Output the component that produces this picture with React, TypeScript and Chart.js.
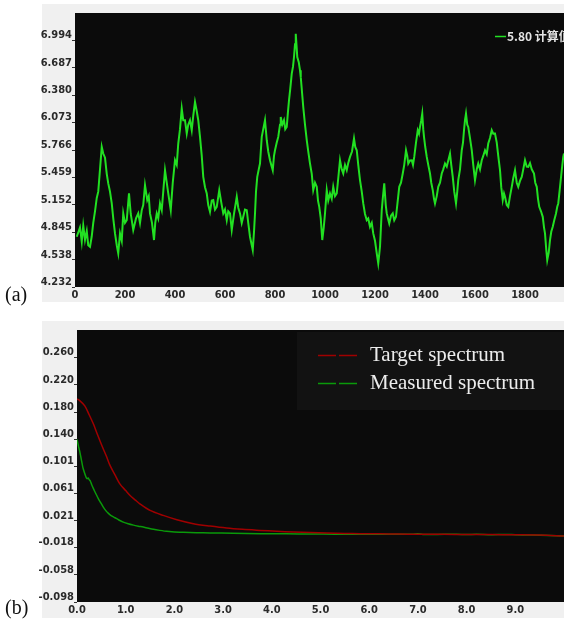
import { useEffect, useRef } from "react";
import { Chart, registerables } from "chart.js";

Chart.register(...registerables);

// ---- Panel (a): computed value trace ----
const CALC_X = [
  7, 20, 27, 33, 40, 47, 53, 60, 67, 73, 80, 87, 93, 100, 107, 113, 120, 127, 133, 140,
  147, 153, 160, 167, 173, 180, 187, 193, 200, 207, 216, 223, 227, 233, 244, 253, 260, 267, 273, 280,
  289, 295, 300, 308, 316, 321, 327, 333, 340, 347, 353, 360, 367, 373, 383, 391, 400, 407, 413, 420,
  427, 433, 440, 447, 453, 460, 467, 473, 480, 487, 493, 500, 507, 513, 520, 527, 533, 540, 547, 553,
  560, 567, 577, 585, 593, 600, 607, 613, 620, 627, 636, 647, 653, 660, 667, 673, 680, 687, 693, 700,
  707, 711, 716, 720, 724, 729, 735, 740, 747, 753, 760, 767, 773, 780, 787, 791, 796, 800, 807, 813,
  820, 823, 829, 836, 841, 847, 852, 856, 861, 867, 872, 876, 880, 883, 887, 889, 895, 900, 903, 913,
  920, 927, 933, 940, 947, 953, 960, 967, 972, 977, 983, 989, 995, 1000, 1007, 1013, 1020, 1027, 1033, 1040,
  1047, 1053, 1060, 1067, 1073, 1080, 1087, 1093, 1100, 1108, 1116, 1121, 1127, 1133, 1140, 1147, 1153, 1160, 1167, 1173,
  1180, 1187, 1193, 1200, 1207, 1213, 1217, 1220, 1227, 1232, 1237, 1243, 1247, 1252, 1257, 1264, 1271, 1277, 1284, 1291,
  1297, 1304, 1311, 1317, 1324, 1329, 1333, 1340, 1347, 1352, 1357, 1364, 1371, 1376, 1380, 1385, 1389, 1393, 1396, 1401,
  1407, 1413, 1420, 1425, 1431, 1436, 1440, 1447, 1453, 1460, 1467, 1473, 1480, 1487, 1493, 1500, 1505, 1511, 1517, 1524,
  1529, 1533, 1540, 1547, 1552, 1556, 1560, 1564, 1569, 1573, 1580, 1587, 1593, 1600, 1607, 1613, 1620, 1627, 1633, 1640,
  1647, 1653, 1660, 1667, 1673, 1680, 1687, 1693, 1700, 1705, 1711, 1716, 1720, 1727, 1733, 1740, 1747, 1753, 1760, 1767,
  1773, 1780, 1787, 1793, 1800, 1807, 1813, 1820, 1827, 1836, 1841, 1847, 1852, 1857, 1864, 1871, 1876, 1880, 1885, 1889,
  1895, 1900, 1905, 1911, 1917, 1924, 1929, 1933, 1940, 1947, 1953, 1956,
];
const CALC_Y = [
  4.795, 4.9, 4.74, 4.92, 4.76, 4.86, 4.7, 4.683, 4.8, 4.95, 5.08, 5.23, 5.3, 5.55, 5.801, 5.727, 5.68, 5.5, 5.392, 5.3,
  5.168, 5.0, 4.832, 4.7, 4.609, 4.832, 4.75, 5.056, 4.95, 4.981, 5.28, 5.05, 4.981, 4.87, 5.0, 5.056, 4.95, 5.093, 5.15, 5.373,
  5.205, 5.25, 5.056, 4.95, 4.758, 4.95, 5.056, 5.0, 5.168, 5.093, 5.3, 5.54, 5.4, 5.28, 5.093, 5.4, 5.652, 5.6, 5.839, 6.0,
  6.23, 6.1, 6.1, 5.951, 6.05, 6.1, 5.988, 6.15, 6.304, 6.2, 6.1, 5.913, 5.7, 5.466, 5.35, 5.28, 5.15, 5.074, 5.2, 5.205,
  5.1, 5.13, 5.317, 5.18, 5.056, 5.1, 4.981, 5.08, 5.056, 4.87, 5.05, 5.242, 5.12, 5.056, 4.95, 5.018, 5.1, 5.093, 4.95, 4.795,
  4.7, 4.646, 4.85, 5.056, 5.3, 5.466, 5.55, 5.615, 5.913, 6.0, 6.1, 5.876, 5.75, 5.652, 5.58, 5.54, 5.7, 5.764, 5.85, 5.913,
  6.05, 6.137, 6.05, 6.1, 6.0, 6.025, 6.2, 6.323, 6.45, 6.622, 6.7, 6.808, 6.95, 7.069, 6.9, 6.808, 6.75, 6.659, 6.584, 6.248,
  6.05, 5.876, 5.75, 5.615, 5.5, 5.317, 5.4, 5.354, 5.2, 5.13, 5.0, 4.758, 4.9, 5.056, 5.317, 5.2, 5.28, 5.22, 5.354, 5.25,
  5.28, 5.45, 5.652, 5.55, 5.503, 5.6, 5.54, 5.62, 5.689, 5.75, 5.895, 5.8, 5.764, 5.6, 5.43, 5.3, 5.168, 5.05, 4.981, 5.0,
  4.907, 4.95, 4.832, 4.75, 4.609, 4.497, 4.6, 4.683, 5.093, 5.25, 5.392, 5.15, 5.056, 5.0, 4.944, 5.03, 5.056, 4.98, 5.018, 5.2,
  5.354, 5.4, 5.503, 5.6, 5.764, 5.7, 5.615, 5.65, 5.652, 5.6, 5.689, 5.85, 5.988, 5.95, 6.025, 6.1, 6.174, 6.0, 5.913, 5.8,
  5.689, 5.6, 5.503, 5.4, 5.317, 5.22, 5.168, 5.25, 5.354, 5.4, 5.503, 5.55, 5.615, 5.58, 5.65, 5.727, 5.6, 5.466, 5.3, 5.168,
  5.3, 5.429, 5.55, 5.764, 5.85, 5.988, 6.1, 6.174, 6.05, 6.025, 5.9, 5.764, 5.6, 5.429, 5.55, 5.615, 5.55, 5.652, 5.7, 5.764,
  5.72, 5.839, 5.9, 5.988, 5.95, 5.951, 5.85, 5.7, 5.54, 5.35, 5.205, 5.28, 5.242, 5.15, 5.13, 5.25, 5.354, 5.45, 5.54, 5.4,
  5.354, 5.42, 5.466, 5.55, 5.652, 5.58, 5.577, 5.62, 5.55, 5.503, 5.4, 5.354, 5.22, 5.13, 5.08, 5.018, 4.9, 4.832, 4.65, 4.534,
  4.62, 4.758, 4.85, 4.907, 4.98, 5.056, 5.13, 5.168, 5.35, 5.54, 5.689, 5.727,
];
const CALC_LABEL = "5.80 计算值";
const A_X_TICKS = [0, 200, 400, 600, 800, 1000, 1200, 1400, 1600, 1800];
const A_Y_LABELS = ["4.232", "4.538", "4.845", "5.152", "5.459", "5.766", "6.073", "6.380", "6.687", "6.994"];
const A_X_MAX = 1956;
const A_Y_MAX = 7.301;

// ---- Panel (b): spectra ----
const TARGET_X = [
  0, 0.05, 0.16, 0.25, 0.34, 0.42, 0.51, 0.6, 0.68, 0.78, 0.88, 1.0, 1.09, 1.2, 1.29, 1.5, 1.77, 2.05, 2.39, 2.73,
  3.07, 3.4, 3.76, 4.1, 4.44, 4.8, 5.13, 5.5, 5.81, 6.2, 6.6, 7.0, 7.5, 8.0, 8.5, 9.0, 9.5, 10,
];
const TARGET_Y = [
  0.199, 0.197, 0.189, 0.176, 0.162, 0.147, 0.131, 0.116, 0.1015, 0.088, 0.0748, 0.065, 0.0578, 0.051, 0.0457, 0.036,
  0.0287, 0.0224, 0.0166, 0.0131, 0.0102, 0.0083, 0.0068, 0.0055, 0.0044, 0.0036, 0.0029, 0.0024, 0.002, 0.0017, 0.0014,
  0.0012, 0.001, 0.0008, 0.0006, 0.0004, 0.0, -0.0015,
];
const MEASURED_X = [
  0, 0.03, 0.06, 0.09, 0.12, 0.15, 0.19, 0.21, 0.23, 0.25, 0.27, 0.3, 0.34, 0.39, 0.44, 0.49, 0.54, 0.6, 0.64, 0.7,
  0.78, 0.86, 0.95, 1.05, 1.16, 1.26, 1.36, 1.47, 1.57, 1.7, 1.84, 2.0, 2.18, 2.45, 2.73, 3.2, 3.76, 4.3, 4.8, 5.3,
  5.8, 6.2, 6.6, 6.9, 7.0, 7.1, 7.4, 7.8, 8.0, 8.2, 8.5, 8.8, 9.0, 9.3, 9.7, 10,
];
const MEASURED_Y = [
  0.14, 0.13, 0.121, 0.11, 0.099, 0.092, 0.084, 0.0825, 0.0835, 0.081, 0.0796, 0.074, 0.0675, 0.06, 0.053, 0.047,
  0.0408, 0.035, 0.032, 0.0285, 0.0253, 0.022, 0.0189, 0.0165, 0.0145, 0.013, 0.0116, 0.0098, 0.0083, 0.0068, 0.0054,
  0.0046, 0.0039, 0.0034, 0.003, 0.0026, 0.002, 0.0017, 0.0015, 0.0013, 0.0012, 0.0011, 0.001, 0.0012, 0.0018, 0.0009,
  0.0008, 0.0012, 0.0006, 0.0011, 0.0005, 0.0009, 0.0004, 0.0, -0.0008, -0.0015,
];
const SERIES_NAMES = ["Target spectrum", "Measured spectrum"];
const B_X_LABELS = ["0.0", "1.0", "2.0", "3.0", "4.0", "5.0", "6.0", "7.0", "8.0", "9.0"];
const B_Y_LABELS = ["-0.098", "-0.058", "-0.018", "0.021", "0.061", "0.101", "0.140", "0.180", "0.220", "0.260"];
const B_X_MAX = 10;
const B_Y_MAX = 0.3;

const TICK_FONT = {
  family: '"Liberation Sans Narrow", "Arial Narrow", "DejaVu Sans Condensed", sans-serif',
  size: 11,
  weight: "bold" as const,
};
const PLOT_BG = "#0b0b0b";

const plotBackground = {
  id: "plotBackground",
  beforeDraw(chart: any) {
    const { ctx, chartArea } = chart;
    ctx.save();
    ctx.fillStyle = PLOT_BG;
    ctx.fillRect(chartArea.left, chartArea.top, chartArea.right - chartArea.left, chartArea.bottom - chartArea.top);
    ctx.restore();
  },
};

// Small in-plot legend for the single trace of panel (a)
const traceLegend = {
  id: "traceLegend",
  afterDraw(chart: any) {
    const { ctx } = chart;
    const ds = chart.data.datasets[0];
    ctx.save();
    ctx.strokeStyle = ds.borderColor;
    ctx.lineWidth = 1.5;
    ctx.beginPath();
    ctx.moveTo(495, 32.5);
    ctx.lineTo(506, 32.5);
    ctx.stroke();
    ctx.fillStyle = "#e4e4e4";
    ctx.font = 'bold 12px "Noto Sans CJK SC", "Liberation Sans Narrow", sans-serif';
    ctx.textBaseline = "middle";
    ctx.fillText(ds.label, 507, 32.5);
    ctx.restore();
  },
};

// Boxed legend for the spectra of panel (b)
const spectrumLegend = {
  id: "spectrumLegend",
  afterDraw(chart: any) {
    const { ctx, chartArea } = chart;
    const left = 297;
    const top = 11;
    ctx.save();
    ctx.fillStyle = "#121212";
    ctx.fillRect(left, top, chartArea.right - left, 78);
    chart.data.datasets.forEach((ds: any, i: number) => {
      const y = top + 23.5 + i * 28;
      ctx.strokeStyle = ds.borderColor;
      ctx.lineWidth = 1.5;
      ctx.beginPath();
      ctx.moveTo(left + 21, y);
      ctx.lineTo(left + 39, y);
      ctx.moveTo(left + 42, y);
      ctx.lineTo(left + 60, y);
      ctx.stroke();
      ctx.fillStyle = "#ececec";
      ctx.font = '21px "Liberation Serif", "Times New Roman", serif';
      ctx.textBaseline = "middle";
      ctx.fillText(ds.label, left + 73, y);
    });
    ctx.restore();
  },
};

function yAxis(labels: string[], min: number, max: number, width: number) {
  return {
    type: "linear" as const,
    min,
    max,
    afterBuildTicks(axis: any) {
      axis.ticks = labels.map((l) => ({ value: Number(l) }));
    },
    afterFit(axis: any) {
      axis.width = width;
    },
    border: { display: false },
    grid: { drawOnChartArea: false, drawTicks: true, tickLength: 3, color: "#333", tickWidth: 1 },
    ticks: {
      font: TICK_FONT,
      color: "#2a2a2a",
      padding: 0,
      labelOffset: -5,
      callback: (_v: any, i: number) => labels[i] ?? "",
    },
  };
}

function xAxis(values: number[], labels: string[], max: number, height: number) {
  return {
    type: "linear" as const,
    min: 0,
    max,
    afterBuildTicks(axis: any) {
      axis.ticks = values.map((v) => ({ value: v }));
    },
    afterFit(axis: any) {
      axis.height = height;
    },
    border: { display: false },
    grid: { display: false, drawTicks: false },
    ticks: {
      font: TICK_FONT,
      color: "#2a2a2a",
      padding: 2,
      maxRotation: 0,
      autoSkip: false,
      callback: (_v: any, i: number) => labels[i] ?? "",
    },
  };
}

export default function App() {
  const refA = useRef<HTMLCanvasElement>(null);
  const refB = useRef<HTMLCanvasElement>(null);

  useEffect(() => {
    const chartA = new Chart(refA.current!, {
      type: "line",
      data: {
        datasets: [
          {
            label: CALC_LABEL,
            data: CALC_X.map((x, i) => ({ x, y: CALC_Y[i] })),
            borderColor: "#22e022",
            borderWidth: 2,
            pointRadius: 0,
            tension: 0,
          },
        ],
      },
      options: {
        responsive: false,
        animation: false,
        devicePixelRatio: 1,
        layout: { padding: { top: 9, right: 0, left: 0, bottom: 0 } },
        plugins: { legend: { display: false }, tooltip: { enabled: false } },
        scales: {
          x: xAxis(A_X_TICKS, A_X_TICKS.map(String), A_X_MAX, 15),
          y: yAxis(A_Y_LABELS, 4.232, A_Y_MAX, 75),
        },
      } as any,
      plugins: [plotBackground, traceLegend],
    });

    const chartB = new Chart(refB.current!, {
      type: "line",
      data: {
        datasets: [
          {
            label: SERIES_NAMES[0],
            data: TARGET_X.map((x, i) => ({ x, y: TARGET_Y[i] })),
            borderColor: "#a00000",
            borderWidth: 1.5,
            pointRadius: 0,
            tension: 0.3,
          },
          {
            label: SERIES_NAMES[1],
            data: MEASURED_X.map((x, i) => ({ x, y: MEASURED_Y[i] })),
            borderColor: "#0a9a0a",
            borderWidth: 1.5,
            pointRadius: 0,
            tension: 0.2,
          },
        ],
      },
      options: {
        responsive: false,
        animation: false,
        devicePixelRatio: 1,
        layout: { padding: { top: 9, right: 0, left: 0, bottom: 0 } },
        plugins: { legend: { display: false }, tooltip: { enabled: false } },
        scales: {
          x: xAxis(B_X_LABELS.map(Number), B_X_LABELS, B_X_MAX, 16),
          y: yAxis(B_Y_LABELS, -0.098, B_Y_MAX, 77),
        },
      } as any,
      plugins: [plotBackground, spectrumLegend],
    });

    return () => {
      chartA.destroy();
      chartB.destroy();
    };
  }, []);

  const tag = {
    position: "absolute" as const,
    left: 5,
    font: '20px "Liberation Serif", "Times New Roman", serif',
    lineHeight: "20px",
    color: "#111",
  };
  const panel = { position: "absolute" as const, left: 42, width: 522, background: "#f0f0f0" };
  const canvasBox = { position: "absolute" as const, left: 0, display: "block" };

  return (
    <div style={{ position: "fixed", left: 0, top: 0, width: 564, height: 621, background: "#fff", overflow: "hidden" }}>
      <div style={{ ...panel, top: 4, height: 298 }} />
      <div style={{ ...panel, top: 321, height: 297 }} />
      <canvas ref={refA} width={564} height={298} style={{ ...canvasBox, top: 4 }} />
      <canvas ref={refB} width={564} height={297} style={{ ...canvasBox, top: 321 }} />
      <span style={{ ...tag, top: 284 }}>(a)</span>
      <span style={{ ...tag, top: 597 }}>(b)</span>
    </div>
  );
}
